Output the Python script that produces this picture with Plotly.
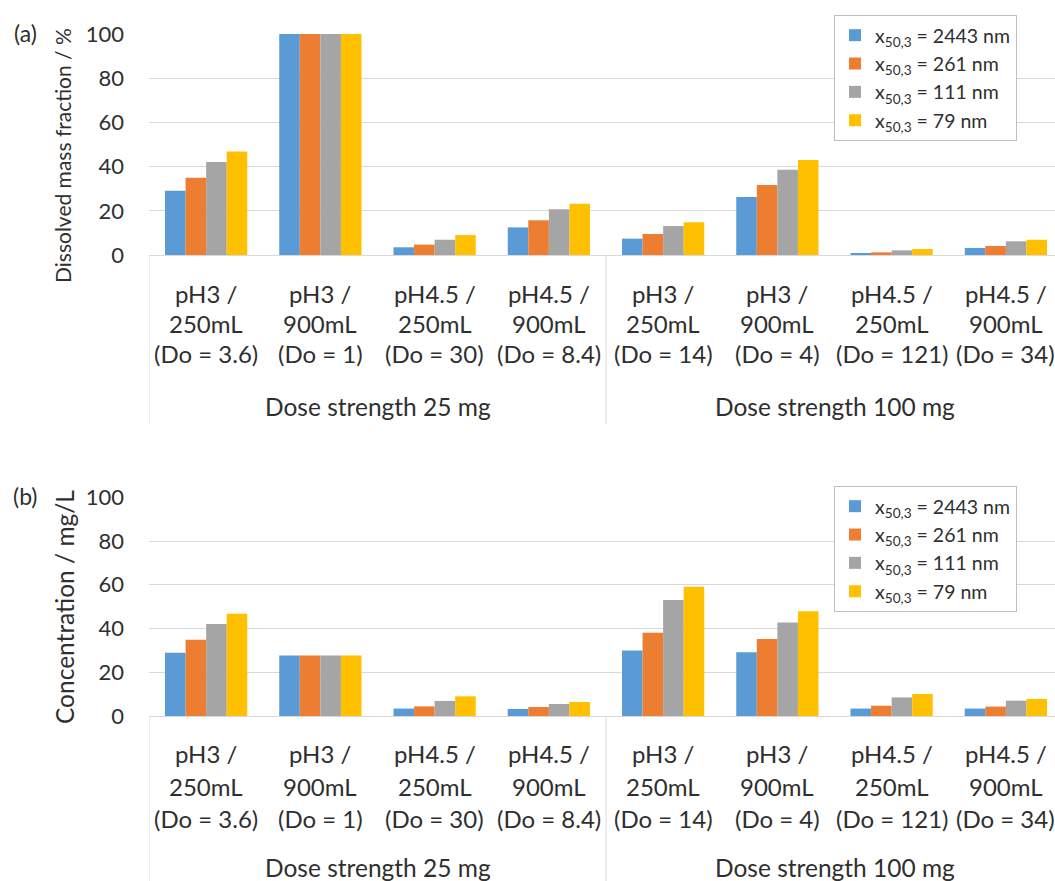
import plotly.graph_objects as go

W, H = 1055, 881

cond_labels = ["pH3 /", "pH3 /", "pH4.5 /", "pH4.5 /", "pH3 /", "pH3 /", "pH4.5 /", "pH4.5 /"]
vol_labels = ["250mL", "900mL", "250mL", "900mL", "250mL", "900mL", "250mL", "900mL"]
do_labels = ["(Do = 3.6)", "(Do = 1)", "(Do = 30)", "(Do = 8.4)",
             "(Do = 14)", "(Do = 4)", "(Do = 121)", "(Do = 34)"]
categories = [f"{a} {b} {c}" for a, b, c in zip(cond_labels, vol_labels, do_labels)]
dose_groups = ["Dose strength 25 mg", "Dose strength 100 mg"]
series_names = [
    "x<sub>50,3</sub> = 2443 nm", "x<sub>50,3</sub> = 261 nm",
    "x<sub>50,3</sub> = 111 nm", "x<sub>50,3</sub> = 79 nm",
]
colors = ["#5B9BD5", "#ED7D31", "#A5A5A5", "#FFC000"]

# (a) Dissolved mass fraction / %
frac_2443 = [29.1, 100, 3.5, 12.5, 7.4, 26.2, 0.9, 3.2]
frac_261 = [35.0, 100, 4.7, 15.7, 9.5, 31.7, 1.2, 4.1]
frac_111 = [42.1, 100, 6.9, 20.7, 13.1, 38.6, 2.1, 6.2]
frac_79 = [46.8, 100, 9.0, 23.2, 14.8, 43.0, 2.7, 6.9]

# (b) Concentration / mg/L
conc_2443 = [28.9, 27.7, 3.4, 3.2, 29.9, 29.1, 3.4, 3.4]
conc_261 = [34.9, 27.7, 4.4, 4.1, 38.1, 35.2, 4.7, 4.3]
conc_111 = [42.1, 27.7, 6.9, 5.5, 53.0, 42.7, 8.5, 7.0]
conc_79 = [46.8, 27.7, 9.0, 6.4, 59.1, 47.9, 10.1, 7.8]

y_ticks = [0, 20, 40, 60, 80, 100]

FONT = "Lato"
TXT = "#2f2f2f"
GRID = "#d9d9d9"

fig = go.Figure()
for name, vals, c in zip(series_names, [frac_2443, frac_261, frac_111, frac_79], colors):
    fig.add_trace(go.Bar(x=categories, y=vals, name=name, marker_color=c,
                         marker_line_width=0, xaxis="x", yaxis="y", legend="legend"))
for name, vals, c in zip(series_names, [conc_2443, conc_261, conc_111, conc_79], colors):
    fig.add_trace(go.Bar(x=categories, y=vals, name=name, marker_color=c,
                         marker_line_width=0, xaxis="x2", yaxis="y2", legend="legend2"))

px = lambda p: p / W
py = lambda p: 1 - p / H

x_dom = [px(149), 1]
xrange = [-0.5, 7.43]
ya_dom = [py(255), py(34)]
yb_dom = [py(716), py(497.3)]

xa = dict(type="category", range=xrange, showline=True, linecolor=GRID, linewidth=1,
          showgrid=False, ticks="", showticklabels=False,
          automargin=False, fixedrange=True)
ya = dict(range=[0, 100], tickvals=y_ticks, showgrid=True, gridcolor=GRID, gridwidth=1,
          zeroline=False, showline=False, ticks="", automargin=False,
          tickfont=dict(family=FONT, size=22, color=TXT), ticklabelstandoff=24)

legend_common = dict(bgcolor="white", bordercolor="#bfbfbf", borderwidth=1,
                     font=dict(family=FONT, size=19.5, color=TXT), xanchor="left",
                     yanchor="top", traceorder="normal", itemclick=False)

fig.update_layout(
    width=W, height=H, margin=dict(l=0, r=0, t=0, b=0),
    paper_bgcolor="white", plot_bgcolor="white",
    barmode="group", bargap=0.28, bargroupgap=0,
    font=dict(family=FONT, color=TXT),
    xaxis=dict(domain=x_dom, anchor="y", **xa),
    yaxis=dict(domain=ya_dom, anchor="x", **ya),
    xaxis2=dict(domain=x_dom, anchor="y2", **xa),
    yaxis2=dict(domain=yb_dom, anchor="x2", **ya),
    legend=dict(x=px(834), y=py(15), **legend_common),
    legend2=dict(x=px(834), y=py(486), **legend_common),
)


def txt(text, x, y, size, xref="paper", angle=0):
    return dict(text=text, x=x, y=y, xref=xref, yref="paper", showarrow=False,
                xanchor="center", yanchor="middle", textangle=angle,
                font=dict(family=FONT, size=size, color=TXT))


ann = []
ann.append(txt("(a)", px(25), py(33), 23))
ann.append(txt("(b)", px(25), py(496), 23))
ann.append(txt("Dissolved mass fraction / %", px(62), py(156), 21, angle=-90))
ann.append(txt("Concentration / mg/L", px(64), py(607), 24.5, angle=-90))

# category labels (three lines) and dose group labels
for xr, rows, ydose in [("x", (293, 323, 353), 407), ("x2", (753, 786, 818), 867)]:
    for cat, l1, l2, l3 in zip(categories, cond_labels, vol_labels, do_labels):
        for line, yy in zip((l1, l2, l3), rows):
            ann.append(txt(line, cat, py(yy), 24, xref=xr))
    for i, g in enumerate(dose_groups):
        ann.append(txt(g, 1.5 + 4 * i, py(ydose), 24.5, xref=xr))
fig.update_layout(annotations=ann)

shapes = []
for xr, y0, y1 in [("x", py(255), py(424)), ("x2", py(716), py(881))]:
    for xv in [-0.5, 3.5, 7.5]:
        shapes.append(dict(type="line", xref=xr, yref="paper", x0=xv, x1=xv, y0=y0, y1=y1,
                           line=dict(color=GRID, width=1)))
fig.update_layout(shapes=shapes)

fig.write_html("out.html")
